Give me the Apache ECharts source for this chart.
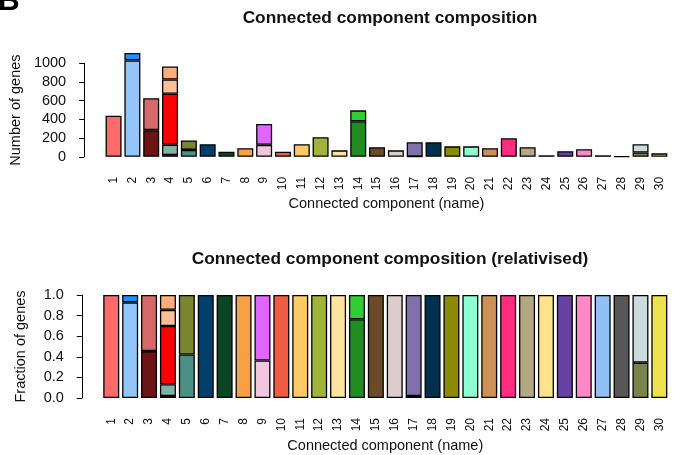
<!DOCTYPE html>
<html>
<head>
<meta charset="utf-8">
<script src="https://cdn.jsdelivr.net/npm/echarts@6/dist/echarts.min.js"></script>
<style>
  html, body { margin: 0; padding: 0; background: #fff; }
  #chart { width: 674px; height: 455px; }
</style>
</head>
<body>
<div id="chart"></div>
<script>
// Connected components (x categories)
const components = ['1','2','3','4','5','6','7','8','9','10','11','12','13','14','15',
  '16','17','18','19','20','21','22','23','24','25','26','27','28','29','30'];

// Gene counts per stacked segment (bottom to top) for each component
const seg1 = [440, 1031, 285, 18, 74, 134, 55, 91, 128, 55, 134, 209, 69, 380, 102,
  69, 3, 155, 112, 112, 91, 198, 102, 16, 59, 80, 16, 5, 46, 37];
const seg2 = [0, 79, 341, 111, 101, 0, 0, 0, 223, 0, 0, 0, 0, 117, 0,
  0, 152, 0, 0, 0, 0, 0, 0, 0, 0, 0, 0, 0, 88, 0];
const seg3 = [0, 0, 0, 545, 0, 0, 0, 0, 0, 0, 0, 0, 0, 0, 0,
  0, 0, 0, 0, 0, 0, 0, 0, 0, 0, 0, 0, 0, 0, 0];
const seg4 = [0, 0, 0, 152, 0, 0, 0, 0, 0, 0, 0, 0, 0, 0, 0,
  0, 0, 0, 0, 0, 0, 0, 0, 0, 0, 0, 0, 0, 0, 0];
const seg5 = [0, 0, 0, 139, 0, 0, 0, 0, 0, 0, 0, 0, 0, 0, 0,
  0, 0, 0, 0, 0, 0, 0, 0, 0, 0, 0, 0, 0, 0, 0];

// Segment fill colours
const col1 = ['#FF6A6A','#92C5F9','#6B1515','#0D2B1E','#4A9085','#003F6B','#0A4524','#F9A043',
  '#F2C6DD','#EE5C42','#FFC966','#A0B43C','#FFE4A0','#228B22','#6B4A2A','#DDCCCC','#2E1F5E',
  '#00304F','#8B8B00','#8DFFD0','#CD9055','#FF2D7D','#B2A882','#FFE28C','#6741A4','#FF8AC6',
  '#8FC1F5','#575757','#7B8448','#EBE24D'];
const col2 = [null,'#1E90FF','#D46A6A','#80B3A6','#7A8530',null,null,null,'#E066FF',null,null,
  null,null,'#32CD32',null,null,'#8070AC',null,null,null,null,null,null,null,null,null,null,
  null,'#CCDBDB',null];
const col3 = components.map((c, i) => i === 3 ? '#FF0000' : null);
const col4 = components.map((c, i) => i === 3 ? '#FFBF99' : null);
const col5 = components.map((c, i) => i === 3 ? '#FFAD7A' : null);

const yTicksCount = [0, 200, 400, 600, 800, 1000];
const yTicksFrac = [0.0, 0.2, 0.4, 0.6, 0.8, 1.0];

const layers = [[seg1, col1], [seg2, col2], [seg3, col3], [seg4, col4], [seg5, col5]];
const totals = components.map((c, i) => layers.reduce((s, l) => s + l[0][i], 0));

const FONT = '"Liberation Sans", Arial, Helvetica, sans-serif';
const TXT = '#111';

function makeSeries(gridIdx, relative) {
  return layers.map(([vals, cols], li) => ({
    type: 'bar',
    name: 'segment' + (li + 1),
    xAxisIndex: gridIdx,
    yAxisIndex: gridIdx,
    stack: relative ? 'rel' : 'abs',
    barWidth: 16,
    clip: false,
    silent: true,
    data: vals.map((v, i) => v > 0 ? {
      value: relative ? v / totals[i] : v,
      itemStyle: { color: cols[i] }
    } : '-'),
    itemStyle: { borderColor: '#000', borderWidth: 1.3 }
  }));
}

function xAxisCfg(gridIdx) {
  return {
    type: 'category',
    gridIndex: gridIdx,
    data: components,
    axisLine: { show: false },
    axisTick: { show: false },
    axisLabel: { rotate: 90, margin: 20, fontSize: 12, color: TXT, fontFamily: FONT, interval: 0 },
    name: 'Connected component (name)',
    nameLocation: 'middle',
    nameGap: 40,
    nameTextStyle: { fontSize: 14.5, color: TXT, fontFamily: FONT }
  };
}

function yAxisCfg(gridIdx, ticks, name, decimals) {
  return {
    type: 'value',
    gridIndex: gridIdx,
    min: ticks[0],
    max: ticks[ticks.length - 1],
    interval: ticks[1] - ticks[0],
    offset: 20,
    splitLine: { show: false },
    axisLine: { show: true, lineStyle: { color: '#000', width: 1 } },
    axisTick: { show: true, length: 5, lineStyle: { color: '#000' } },
    axisLabel: {
      margin: 18, fontSize: 14.5, color: TXT, fontFamily: FONT,
      formatter: v => v.toFixed(decimals)
    },
    name: name,
    nameLocation: 'middle',
    nameGap: 53,
    nameTextStyle: { fontSize: 14.5, color: TXT, fontFamily: FONT }
  };
}

const chart = echarts.init(document.getElementById('chart'), null, { renderer: 'canvas' });
chart.setOption({
  animation: false,
  backgroundColor: '#fff',
  title: [
    { text: 'Connected component composition', left: 385, top: 5, textAlign: 'center',
      textStyle: { fontSize: 17.3, fontWeight: 'bold', color: TXT, fontFamily: FONT } },
    { text: 'Connected component composition (relativised)', left: 385, top: 246, textAlign: 'center',
      textStyle: { fontSize: 17.3, fontWeight: 'bold', color: TXT, fontFamily: FONT } }
  ],
  graphic: [
    { type: 'text', left: -2, top: -13,
      style: { text: 'B', font: 'bold 30px ' + FONT, fill: '#000' } }
  ],
  grid: [
    { left: 101.8, right: 5.2, top: 63.3, height: 93.5 },
    { left: 101.8, right: 5.2, top: 295, height: 103 }
  ],
  xAxis: [xAxisCfg(0), xAxisCfg(1)],
  yAxis: [
    yAxisCfg(0, yTicksCount, 'Number of genes', 0),
    yAxisCfg(1, yTicksFrac, 'Fraction of genes', 1)
  ],
  series: [...makeSeries(0, false), ...makeSeries(1, true)]
});
</script>
</body>
</html>
